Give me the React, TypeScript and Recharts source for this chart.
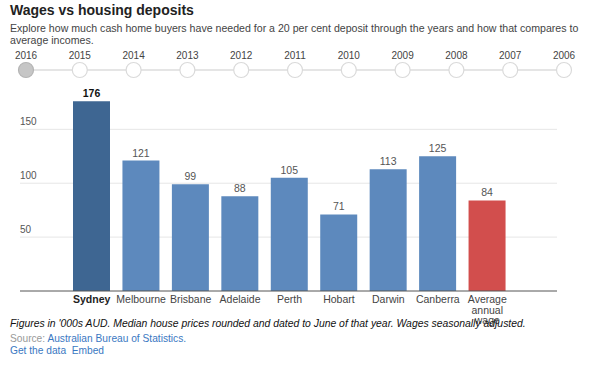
import React from 'react';
import { BarChart, Bar, XAxis, YAxis, CartesianGrid, Cell, LabelList } from 'recharts';

const cities = ['Sydney', 'Melbourne', 'Brisbane', 'Adelaide', 'Perth', 'Hobart', 'Darwin', 'Canberra', 'Average annual wage'];
const deposits = [176, 121, 99, 88, 105, 71, 113, 125, 84];
const years = ['2016', '2015', '2014', '2013', '2012', '2011', '2010', '2009', '2008', '2007', '2006'];
const yTicks = [50, 100, 150];

const data = cities.map((city, i) => ({ city, value: deposits[i] }));

const FONT = '"Liberation Sans", Arial, sans-serif';
const DARK = '#3e6692';
const BLUE = '#5d89bd';
const RED = '#d24e4d';

function barColor(i: number) {
  if (i === 0) return DARK;
  if (cities[i] === 'Average annual wage') return RED;
  return BLUE;
}

function YTick({ y, payload }: any) {
  return (
    <text x={20} y={y - 4} fontSize={10} fill="#555" fontFamily={FONT}>
      {payload.value}
    </text>
  );
}

function XTick({ x, y, payload }: any) {
  const label: string = payload.value;
  const lines = label === 'Average annual wage' ? ['Average', 'annual', 'wage'] : [label];
  const bold = label === 'Sydney';
  return (
    <text
      x={x}
      y={y + 4}
      textAnchor="middle"
      fontSize={10.5}
      fontWeight={bold ? 'bold' : 'normal'}
      fill={bold ? '#222' : '#444'}
      fontFamily={FONT}
    >
      {lines.map((l, i) => (
        <tspan key={i} x={x} dy={i === 0 ? 0 : 10.5}>
          {l}
        </tspan>
      ))}
    </text>
  );
}

function ValueLabel(props: any) {
  const { x, y, width, value, index } = props;
  const bold = index === 0;
  return (
    <text
      x={x + width / 2}
      y={y - 4}
      textAnchor="middle"
      fontSize={10.5}
      fontWeight={bold ? 'bold' : 'normal'}
      fill={bold ? '#111' : '#555'}
      fontFamily={FONT}
    >
      {value}
    </text>
  );
}

function Timeline() {
  const x0 = 26;
  const step = 53.8;
  const cy = 70;
  return (
    <svg width={602} height={90} style={{ position: 'absolute', left: 0, top: 0 }}>
      <line x1={x0} y1={cy} x2={x0 + step * (years.length - 1)} y2={cy} stroke="#dcdcdc" strokeWidth={1.5} />
      {years.map((yr, i) => (
        <g key={yr}>
          <text x={x0 + step * i} y={59} textAnchor="middle" fontSize={10} fill="#444" fontFamily={FONT}>
            {yr}
          </text>
          <circle
            cx={x0 + step * i}
            cy={cy}
            r={7.5}
            fill={i === 0 ? '#c6c6c6' : '#fff'}
            stroke={i === 0 ? '#b4b4b4' : '#dadada'}
            strokeWidth={1.2}
          />
        </g>
      ))}
    </svg>
  );
}

export default function App() {
  return (
    <div style={{ position: 'absolute', left: 0, top: 0, width: 602, height: 374, background: '#fff', fontFamily: FONT, overflow: 'hidden' }}>
      <div style={{ position: 'absolute', left: 0, top: 0 }}>
        <BarChart width={602} height={374} data={data} margin={{ top: 97, right: 45, bottom: 0, left: 0 }}>
          <CartesianGrid horizontal vertical={false} stroke="#e6e6e6" syncWithTicks />
          <XAxis
            dataKey="city"
            interval={0}
            tickLine={false}
            axisLine={{ stroke: '#555', strokeWidth: 1 }}
            tick={<XTick />}
            padding={{ left: 47, right: 45 }}
            height={83}
          />
          <YAxis
            domain={[0, 180]}
            ticks={yTicks}
            width={20}
            axisLine={false}
            tickLine={false}
            tick={<YTick />}
          />
          <Bar dataKey="value" barSize={37} isAnimationActive={false}>
            {data.map((d, i) => (
              <Cell key={d.city} fill={barColor(i)} />
            ))}
            <LabelList dataKey="value" content={<ValueLabel />} />
          </Bar>
        </BarChart>
      </div>
      <Timeline />
      <div style={{ position: 'absolute', left: 10, top: 2, fontSize: 14, fontWeight: 'bold', color: '#222' }}>
        Wages vs housing deposits
      </div>
      <div style={{ position: 'absolute', left: 10, top: 22, width: 585, fontSize: 10.6, lineHeight: '12px', color: '#444' }}>
        Explore how much cash home buyers have needed for a 20 per cent deposit through the years and how that compares to average incomes.
      </div>
      <div style={{ position: 'absolute', left: 10, top: 318, fontSize: 10.4, fontStyle: 'italic', color: '#111' }}>
        Figures in '000s AUD. Median house prices rounded and dated to June of that year. Wages seasonally adjusted.
      </div>
      <div style={{ position: 'absolute', left: 10, top: 333, fontSize: 10.2, color: '#999' }}>
        Source: <span style={{ color: '#3a78c2' }}>Australian Bureau of Statistics.</span>
      </div>
      <div style={{ position: 'absolute', left: 10, top: 345, fontSize: 10.2, color: '#3a78c2' }}>
        Get the data&nbsp;&nbsp;Embed
      </div>
    </div>
  );
}
